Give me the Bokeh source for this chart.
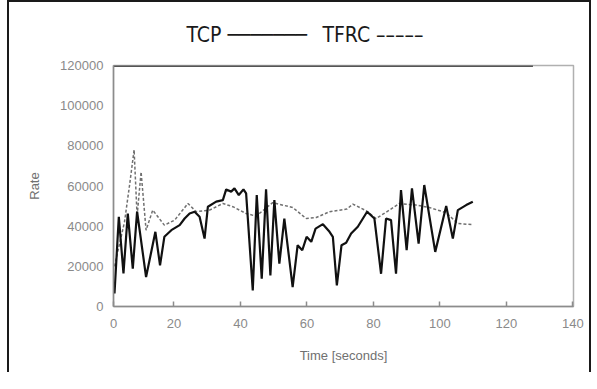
from bokeh.plotting import figure
from bokeh.embed import file_html
from bokeh.resources import INLINE
from bokeh.models import FixedTicker, Title, NumeralTickFormatter

# ---- data ----
tcp_t = [2.1, 3.4, 4.8, 6.1, 7.6, 8.9, 11.6, 14.4, 15.8, 17.1, 19.2, 21.7, 23.2, 24.7,
         26.2, 27.7, 29.2, 30.2, 32.7, 34.7, 35.7, 37.2, 38.2, 39.5, 40.9, 41.7, 43.7,
         44.9, 46.4, 47.7, 49.0, 50.2, 51.7, 53.2, 55.7, 57.2, 58.6, 59.9, 61.3, 62.6,
         64.8, 66.8, 67.8, 69.0, 70.4, 71.8, 73.3, 75.3, 78.1, 80.3, 82.3, 83.8, 85.3,
         86.8, 88.3, 90.0, 91.6, 93.6, 95.3, 98.6, 101.9, 103.9, 105.4, 107.9, 109.9]
tcp_rate = [6500, 44700, 16500, 46300, 18800, 47200, 14700, 37200, 20500, 34700, 38000,
            40500, 43800, 46300, 47200, 44700, 33800, 49700, 52200, 53000, 58300, 57200,
            58800, 55500, 58300, 56300, 8000, 55500, 13800, 58300, 15500, 53000, 21300,
            43800, 9700, 30500, 28000, 34700, 32200, 38800, 41000, 37200, 34700, 10500,
            30500, 31700, 36300, 39700, 47200, 43800, 16300, 43800, 43000, 16300, 58000,
            28000, 58800, 31300, 60500, 27200, 50000, 33800, 48000, 50500, 52200]

tfrc_t = [2.1, 5.1, 6.6, 8.0, 8.9, 10.1, 11.6, 13.6, 17.1, 20.2, 24.2, 26.7, 30.7, 34.7,
          37.7, 41.7, 44.7, 49.7, 55.7, 59.8, 62.8, 66.8, 72.0, 73.8, 77.8, 80.8, 84.8,
          87.8, 92.8, 96.8, 101.9, 105.4, 109.9]
tfrc_rate = [20000, 42000, 60000, 78000, 45000, 67000, 38000, 48000, 40500, 43000, 51300,
             47200, 48000, 51300, 49700, 46300, 45000, 51700, 49300, 43800, 44300, 47200,
             48500, 51000, 47700, 43800, 48000, 51300, 50500, 49300, 46700, 41300, 40800]

cap_t = [1.8, 128.0]
cap_rate = [120000, 120000]

x_ticks = [1.8, 20, 40, 60, 80, 100, 120, 140]
x_labels = {1.8: "0"}
y_ticks = [0, 20000, 40000, 60000, 80000, 100000, 120000]

legend_text = "TCP \u2500\u2500\u2500\u2500\u2500\u2500\u2500\u2002 TFRC \u2013\u2013\u2013\u2013\u2013"

p = figure(width=584, height=372, x_range=(1.8, 140.2), y_range=(0, 120000),
           output_backend="svg", toolbar_location=None,
           min_border_left=104, min_border_right=20, min_border_top=63, min_border_bottom=68)
p.styles = {"border-left": "2px solid #1a1a1a", "border-top": "2px solid #1a1a1a",
            "border-right": "2px solid #1a1a1a", "margin-left": "7px", "margin-top": "0px"}

title = Title(text=legend_text, align="left", offset=73,
              text_font="DejaVu Sans Condensed", text_font_size="21px",
              text_font_style="normal", text_color="#1a1a1a", standoff=37)
p.add_layout(title, "above")

p.grid.visible = False
p.outline_line_color = "#b0b0b0"
p.outline_line_width = 1.5
p.background_fill_color = "white"
p.border_fill_color = "white"

# axes
p.xaxis.ticker = FixedTicker(ticks=x_ticks)
p.xaxis.major_label_overrides = x_labels
p.yaxis.ticker = FixedTicker(ticks=y_ticks)
p.yaxis.formatter = NumeralTickFormatter(format="0")
for ax in (p.xaxis[0], p.yaxis[0]):
    ax.axis_line_color = "#8c8c8c"
    ax.axis_line_width = 1.5
    ax.major_tick_line_color = "#8c8c8c"
    ax.major_tick_line_width = 1.5
    ax.major_tick_in = 5
    ax.major_tick_out = 0
    ax.minor_tick_line_color = None
    ax.major_label_text_color = "#8a8a8a"
    ax.major_label_text_font = "Liberation Sans"
    ax.major_label_text_font_size = "13px"
    ax.axis_label_text_color = "#707070"
    ax.axis_label_text_font = "Liberation Sans"
    ax.axis_label_text_font_size = "13px"
    ax.axis_label_text_font_style = "normal"
p.yaxis.major_tick_in = 0
p.xaxis.axis_label = "Time [seconds]"
p.yaxis.axis_label = "Rate"
p.xaxis.major_label_standoff = 12
p.yaxis.major_label_standoff = 10
p.xaxis.axis_label_standoff = 17
p.yaxis.axis_label_standoff = 15
p.yaxis.major_label_orientation = "horizontal"

p.line(cap_t, cap_rate, line_color="#555555", line_width=3)
p.line(tfrc_t, tfrc_rate, line_color="#707070", line_width=1.5, line_dash="3 2")
p.line(tcp_t, tcp_rate, line_color="#111111", line_width=2.2)

open("out.html", "w").write(file_html(p, INLINE))
